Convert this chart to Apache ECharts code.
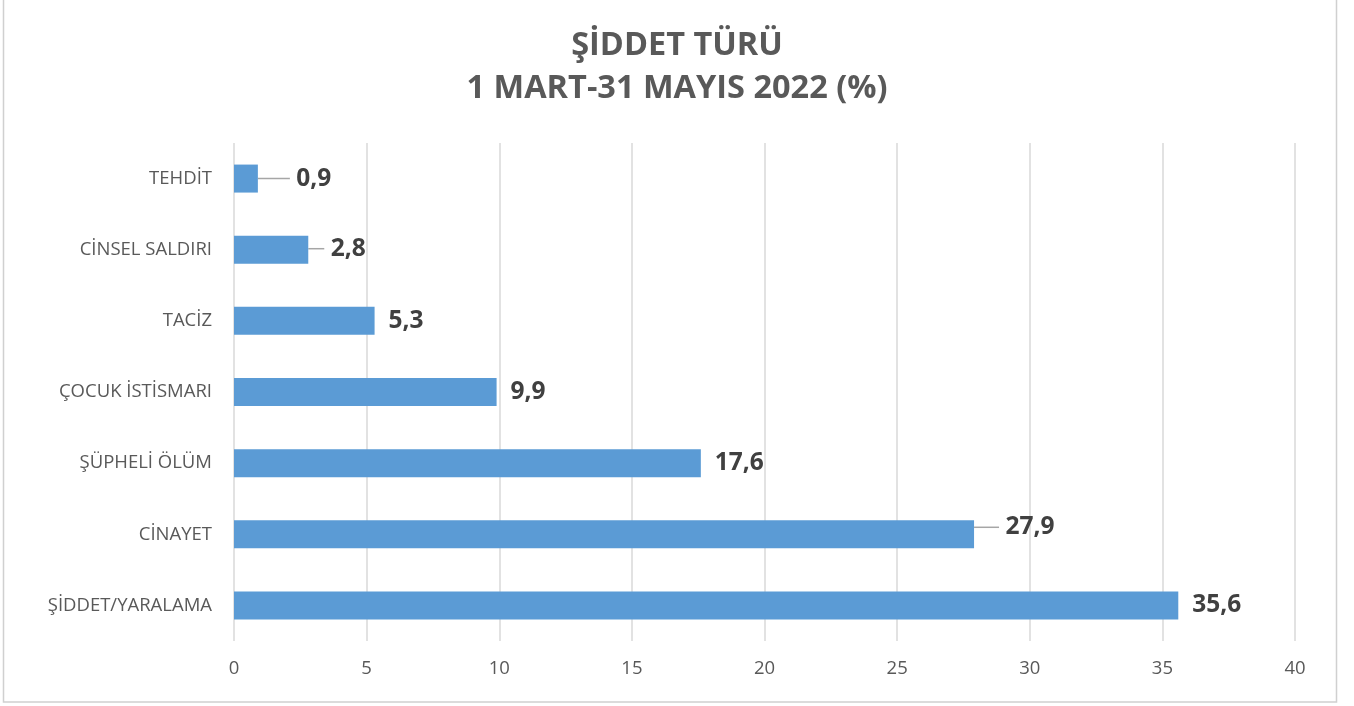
<!DOCTYPE html>
<html><head><meta charset="utf-8">
<script src="https://cdn.jsdelivr.net/npm/echarts@6/dist/echarts.min.js"></script>
<style>html,body{margin:0;padding:0;background:#fff}#c{width:1354px;height:706px}</style>
</head><body><div id="c"></div>
<script>
const categories = ['ŞİDDET/YARALAMA','CİNAYET','ŞÜPHELİ ÖLÜM','ÇOCUK İSTİSMARI','TACİZ','CİNSEL SALDIRI','TEHDİT'];
const values = [35.6, 27.9, 17.6, 9.9, 5.3, 2.8, 0.9];
const xTicks = [0,5,10,15,20,25,30,35,40];
const labelShift = {'CİNSEL SALDIRI':[2,-1],'TEHDİT':[18,0],'CİNAYET':[11,-7]};

const font = "'Open Sans', 'Liberation Sans', sans-serif";
const chart = echarts.init(document.getElementById('c'));
chart.setOption({
  animation:false,
  title:{text:'ŞİDDET TÜRÜ\n1 MART-31 MAYIS 2022 (%)',left:'center',top:19,
    textStyle:{fontFamily:font,fontSize:32.5,fontWeight:'bold',color:'#595959',lineHeight:43}},
  graphic:[{type:'rect',shape:{x:3.5,y:-1,width:1333,height:703},style:{fill:'none',stroke:'#d0d0d0',lineWidth:1.5},silent:true}],
  grid:{left:234,right:59,top:143,bottom:65,containLabel:false},
  xAxis:{type:'value',min:0,max:40,interval:5,
    axisLine:{show:false},axisTick:{show:false},
    splitLine:{lineStyle:{color:'#d9d9d9',width:1.5}},
    axisLabel:{color:'#595959',fontFamily:font,fontSize:18.5,margin:18,
      formatter:v=>xTicks.includes(v)?String(v):''}},
  yAxis:{type:'category',data:categories,
    axisLine:{show:false},axisTick:{show:false},
    axisLabel:{color:'#595959',fontFamily:font,fontSize:18.5,margin:22}},
  series:[{type:'bar',barWidth:28,
    data:values.map((v,i)=>{
      const s=labelShift[categories[i]];
      const d={value:v,itemStyle:{color:'#5b9bd5'}};
      if(s){d.labelLine={show:true,lineStyle:{color:'#a6a6a6',width:1.5}};}
      return d;
    }),
    label:{show:true,position:'right',distance:14,color:'#404040',fontFamily:font,fontSize:24.5,fontWeight:'bold',
      formatter:p=>(labelShift[categories[p.dataIndex]]?'\u00a0':'')+String(p.value).replace('.',',')},
    labelLayout:function(p){
      const s=labelShift[categories[p.dataIndex]];
      return s?{dx:s[0],dy:s[1]}:{};
    },
    labelLine:{show:false}
  }]
});
</script></body></html>
